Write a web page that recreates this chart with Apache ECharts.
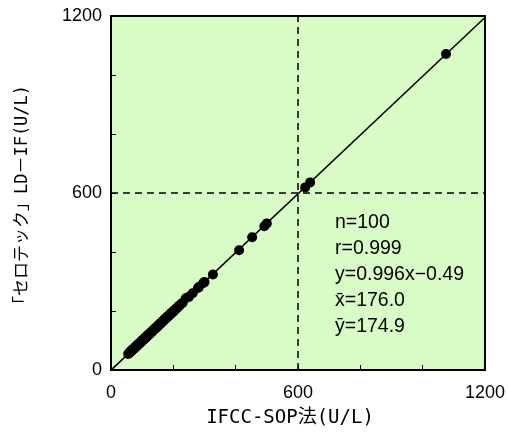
<!DOCTYPE html>
<html>
<head>
<meta charset="utf-8">
<script src="https://cdn.jsdelivr.net/npm/echarts@6/dist/echarts.min.js"></script>
<style>
  html, body { margin: 0; padding: 0; background: #fff; }
  #chart { width: 508px; height: 436px; }
</style>
</head>
<body>
<div id="chart"></div>
<script>
// IFCC-SOP法 (x) と セロテック LD-IF (y)
const xValues = [
  55, 58, 60, 62, 63, 65, 67, 68, 70, 72,
  73, 75, 77, 78, 80, 82, 84, 85, 87, 89,
  90, 92, 94, 95, 97, 99, 100, 102, 104, 106,
  108, 110, 112, 114, 115, 117, 119, 121, 123, 125,
  127, 129, 131, 133, 135, 137, 139, 141, 143, 145,
  147, 149, 151, 153, 155, 157, 159, 161, 163, 165,
  167, 169, 171, 173, 175, 177, 179, 181, 183, 185,
  187, 190, 192, 194, 196, 198, 200, 203, 206, 209,
  212, 215, 219, 224, 230, 240, 250, 262, 279, 282,
  295, 300, 327, 411, 453, 492, 500, 623, 639, 1075
]
const yValues = [
  54, 57, 61, 60, 63, 64, 65, 69, 69, 71,
  73, 73, 77, 76, 80, 81, 82, 86, 86, 88,
  90, 91, 92, 95, 96, 99, 98, 102, 103, 104,
  108, 109, 110, 114, 113, 117, 118, 119, 123, 124,
  125, 129, 130, 131, 135, 136, 137, 141, 142, 143,
  147, 148, 149, 153, 154, 155, 159, 160, 161, 165,
  166, 167, 171, 172, 173, 177, 178, 179, 183, 184,
  185, 190, 190, 194, 195, 196, 200, 201, 205, 208,
  210, 215, 217, 223, 228, 243, 248, 260, 278, 281,
  294, 298, 324, 406, 450, 487, 497, 619, 636, 1071
]
// 回帰直線 y=0.996x-0.49 の両端
const lineX = [0, 1200]
const lineY = [-0.49, 1194.71]
const tickLabels = [0, 600, 1200]
const stats = ['n=100', 'r=0.999', 'y=0.996x\u22120.49', 'x\u0304=176.0', 'y\u0304=174.9']

const points = xValues.map((x, i) => [x, yValues[i]])
const font = 'Arial, "Liberation Sans", sans-serif'
const nameFont = '"DejaVu Sans Mono", "Noto Sans CJK JP", monospace'

const axisCommon = {
  type: 'value',
  min: 0,
  max: 1200,
  interval: 200, // 目盛り200ごと、ラベルは600ごと
  nameLocation: 'middle',
  axisLine: { show: true, lineStyle: { color: '#000', width: 2 } },
  axisTick: { show: true, inside: true, length: 5, lineStyle: { color: '#000', width: 1 } },
  splitLine: { show: false },
  axisLabel: {
    color: '#000', fontSize: 18, fontFamily: font,
    formatter: (v) => (tickLabels.includes(v) ? String(v) : ''),
  },
}

const chart = echarts.init(document.getElementById('chart'))
chart.setOption({
  animation: false,
  backgroundColor: '#fff',
  grid: {
    left: 111, right: 23, top: 16, bottom: 66,
    show: true,
    backgroundColor: '#d9fcc7',
    borderColor: '#000',
    borderWidth: 2,
  },
  xAxis: Object.assign({}, axisCommon, {
    name: 'IFCC-SOP法(U/L)',
    nameGap: 39,
    nameTextStyle: { color: '#000', fontSize: 19, fontFamily: nameFont, padding: [0, 16, 0, 0] },
    axisLabel: Object.assign({}, axisCommon.axisLabel, { margin: 14 }),
  }),
  yAxis: Object.assign({}, axisCommon, {
    name: '「セロテック」LD－IF(U/L)',
    nameGap: 80,
    nameTextStyle: { color: '#000', fontSize: 17, fontFamily: nameFont, padding: [0, 12, 0, 0] },
    axisLabel: Object.assign({}, axisCommon.axisLabel, { margin: 9 }),
  }),
  series: [
    {
      type: 'line',
      data: lineX.map((x, i) => [x, lineY[i]]),
      symbol: 'none',
      lineStyle: { color: '#000', width: 1.5 },
      silent: true,
      z: 2,
      markLine: {
        silent: true,
        symbol: 'none',
        label: { show: false },
        lineStyle: { color: '#000', width: 1.5, type: [7, 5] },
        data: [{ xAxis: 600 }, { yAxis: 600 }],
      },
    },
    {
      type: 'scatter',
      data: points,
      symbol: 'circle',
      symbolSize: 10,
      itemStyle: { color: '#000', opacity: 1 },
      z: 3,
    },
  ],
  graphic: stats.map((s, i) => ({
    type: 'text',
    left: 335,
    top: 213 + i * 26,
    style: { text: s, fill: '#000', fontSize: 19.5, fontFamily: font },
  })),
})
</script>
</body>
</html>
